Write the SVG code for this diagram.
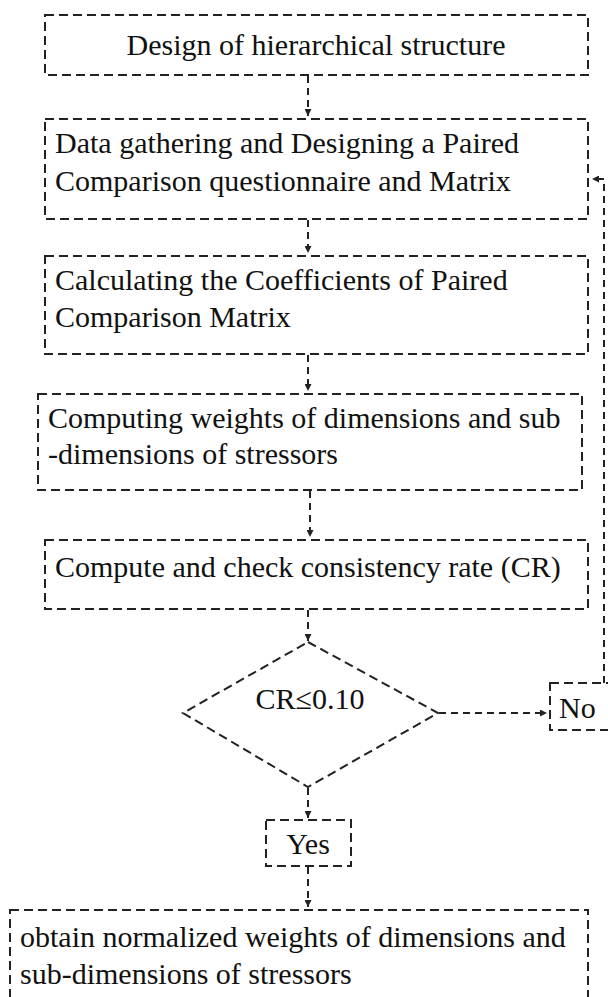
<svg xmlns="http://www.w3.org/2000/svg" width="608" height="997" viewBox="0 0 608 997">
<defs>
<marker id="ah" viewBox="0 0 8 8" refX="8" refY="4" markerWidth="7" markerHeight="7" orient="auto" markerUnits="userSpaceOnUse">
<path d="M0,0 L8,4 L0,8 z" fill="#222"/>
</marker>
<style>
.b{fill:none;stroke:#222;stroke-width:2;stroke-dasharray:9 5}
.c{fill:none;stroke:#222;stroke-width:2;stroke-dasharray:7 5;marker-end:url(#ah)}
.t{font-family:"Liberation Serif","Times New Roman",serif;font-size:30px;fill:#111}
.m{text-anchor:middle}
</style>
</defs>
<rect width="608" height="997" fill="#fff"/>
<g id="n1"><rect class="b" x="45" y="15" width="543" height="60"/><text class="t m" x="316" y="55">Design of hierarchical structure</text></g>
<g id="n2"><rect class="b" x="45" y="119" width="543" height="100"/><text class="t" x="55" y="153">Data gathering and Designing a Paired</text><text class="t" x="55" y="191">Comparison questionnaire and Matrix</text></g>
<g id="n3"><rect class="b" x="45" y="256" width="543" height="98"/><text class="t" x="55" y="290">Calculating the Coefficients of Paired</text><text class="t" x="55" y="327">Comparison Matrix</text></g>
<g id="n4"><rect class="b" x="38" y="394" width="544" height="96"/><text class="t" x="48" y="428">Computing weights of dimensions and sub</text><text class="t" x="48" y="464">-dimensions of stressors</text></g>
<g id="n5"><rect class="b" x="45" y="540" width="543" height="69"/><text class="t" x="55" y="577">Compute and check consistency rate (CR)</text></g>
<g id="d1"><polygon class="b" points="308,642 438,713 308,787 183,713"/><text class="t m" x="310" y="709">CR≤0.10</text></g>
<g id="no"><rect class="b" x="550" y="683" width="62" height="47"/><text class="t" x="559" y="718">No</text></g>
<g id="yes"><rect class="b" x="266" y="820" width="85" height="46"/><text class="t m" x="308" y="854">Yes</text></g>
<g id="n6"><rect class="b" x="10" y="910" width="578" height="110"/><text class="t" x="20" y="947">obtain normalized weights of dimensions and</text><text class="t" x="20" y="984">sub-dimensions of stressors</text></g>
<g id="edges">
<path class="c" d="M308,76 V116"/>
<path class="c" d="M308,220 V253"/>
<path class="c" d="M308,355 V391"/>
<path class="c" d="M310,491 V537"/>
<path class="c" d="M308,610 V641"/>
<path class="c" d="M439,713 H547"/>
<path class="c" d="M604,683 V179 H592"/>
<path class="c" d="M308,788 V818"/>
<path class="c" d="M308,867 V907"/>
</g>
</svg>
